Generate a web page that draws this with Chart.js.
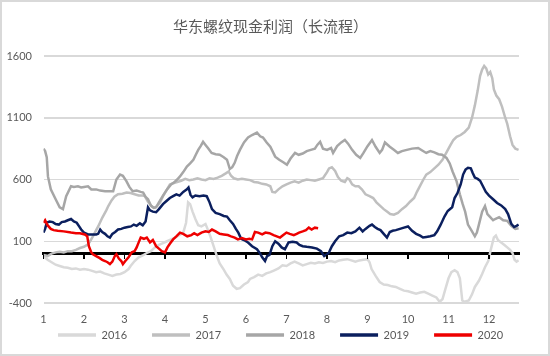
<!DOCTYPE html>
<html>
<head>
<meta charset="utf-8">
<script src="https://cdn.jsdelivr.net/npm/chart.js@4.4.1/dist/chart.umd.min.js"></script>
<style>
html,body{margin:0;padding:0;background:#fff;}
#wrap{width:550px;height:356px;position:relative;background:#fff;overflow:hidden;}
#gridLayer{position:absolute;left:0;top:0;width:550px;height:356px;z-index:0;}
#c{position:absolute;left:0;top:0;display:block;z-index:1;background:transparent;}
#overLayer{position:absolute;left:0;top:0;width:550px;height:356px;z-index:2;pointer-events:none;}
#frame{position:absolute;left:0;top:0;width:550px;height:356px;box-sizing:border-box;border:2px solid #d9d9d9;z-index:3;pointer-events:none;}
.gl{position:absolute;background:#d9d9d9;}
.tk{position:absolute;background:#000;}
</style>
</head>
<body>
<div id="wrap">
  <div id="gridLayer"></div>
  <canvas id="c" width="550" height="356"></canvas>
  <div id="overLayer"></div>
  <div id="frame"></div>
</div>
<script>
// ---------- data ----------
const chartTitle = '华东螺纹现金利润（长流程）';
const monthTicks = [1,2,3,4,5,6,7,8,9,10,11,12];
const yTicks = [-400,100,600,1100,1600];
const seriesNames = ['2016','2017','2018','2019','2020'];

const x2016 = [1.0,1.1,1.2,1.3,1.4,1.5,1.6,1.7,1.8,1.9,2.0,2.1,2.2,2.3,2.4,2.5,2.6,2.7,2.8,2.9,3.0,3.1,3.15,3.25,3.35,3.45,3.55,3.65,3.75,3.85,3.95,4.05,4.15,4.25,4.35,4.45,4.52,4.57,4.62,4.68,4.75,4.82,4.9,5.0,5.05,5.12,5.2,5.28,5.35,5.45,5.52,5.6,5.68,5.77,5.85,5.95,6.05,6.1,6.2,6.3,6.4,6.5,6.6,6.7,6.8,6.9,7.0,7.1,7.2,7.3,7.4,7.5,7.6,7.7,7.8,7.9,8.0,8.1,8.2,8.3,8.4,8.5,8.6,8.7,8.8,8.9,9.0,9.05,9.1,9.2,9.3,9.4,9.5,9.6,9.7,9.8,9.9,10.0,10.1,10.2,10.3,10.4,10.5,10.6,10.7,10.78,10.85,10.92,11.0,11.07,11.15,11.22,11.28,11.34,11.4,11.5,11.58,11.65,11.75,11.83,11.9,11.98,12.05,12.12,12.17,12.22,12.3,12.38,12.45,12.52,12.58,12.63,12.68,12.73];
const v2016 = [-20,-50,-70,-90,-100,-110,-115,-125,-120,-130,-125,-130,-140,-150,-145,-160,-170,-180,-170,-165,-150,-125,-100,-60,-30,-15,5,20,50,70,85,100,115,130,150,170,250,415,400,340,280,230,220,240,200,140,60,-20,-80,-130,-170,-205,-260,-285,-280,-250,-230,-205,-190,-170,-180,-160,-150,-135,-120,-95,-100,-80,-65,-80,-95,-85,-75,-80,-70,-75,-65,-60,-70,-55,-50,-45,-55,-65,-55,-50,-45,-70,-125,-180,-230,-250,-255,-265,-270,-285,-300,-305,-315,-325,-315,-310,-325,-340,-355,-390,-370,-290,-200,-150,-135,-150,-200,-380,-390,-380,-330,-270,-220,-165,-110,-60,40,130,145,110,90,70,50,30,5,-50,-65,-55];

const x2017 = [1.0,1.1,1.2,1.3,1.4,1.5,1.6,1.7,1.8,1.9,2.0,2.1,2.15,2.22,2.3,2.35,2.45,2.55,2.6,2.68,2.75,2.84,2.95,3.05,3.15,3.25,3.35,3.45,3.5,3.58,3.68,3.75,3.82,3.88,3.96,4.05,4.12,4.2,4.3,4.4,4.5,4.6,4.7,4.8,4.9,5.0,5.1,5.2,5.3,5.4,5.5,5.57,5.63,5.7,5.8,5.9,6.0,6.1,6.2,6.3,6.4,6.5,6.6,6.65,6.72,6.8,6.9,7.0,7.1,7.2,7.3,7.4,7.5,7.6,7.7,7.8,7.9,8.0,8.05,8.12,8.2,8.27,8.35,8.44,8.5,8.55,8.62,8.7,8.78,8.86,8.95,9.05,9.14,9.22,9.3,9.4,9.48,9.56,9.65,9.75,9.85,9.95,10.05,10.15,10.22,10.3,10.38,10.45,10.55,10.65,10.75,10.85,10.95,11.05,11.12,11.2,11.3,11.4,11.5,11.58,11.65,11.72,11.78,11.83,11.88,11.93,11.98,12.03,12.08,12.12,12.18,12.25,12.32,12.4,12.45,12.52,12.58,12.65,12.73];
const v2017 = [-10,-20,0,10,15,10,20,20,30,45,55,75,100,140,190,220,290,350,385,430,460,480,485,495,490,480,470,470,465,420,380,370,390,415,470,520,560,570,580,590,605,595,600,610,600,595,610,605,615,630,650,665,630,610,600,605,600,595,580,575,565,560,545,500,495,520,545,560,575,585,575,590,600,595,590,600,610,660,690,700,670,620,590,580,610,600,560,545,545,520,480,465,450,415,390,360,340,320,315,330,360,385,420,450,500,550,600,640,660,690,720,760,820,880,920,945,960,985,1020,1100,1200,1320,1440,1490,1520,1500,1450,1470,1420,1330,1280,1250,1190,1100,1050,950,880,850,840];

const x2018 = [1.0,1.04,1.08,1.11,1.18,1.3,1.4,1.48,1.56,1.68,1.75,1.85,1.93,2.0,2.1,2.18,2.3,2.4,2.52,2.62,2.72,2.8,2.89,2.96,3.05,3.12,3.2,3.3,3.4,3.46,3.52,3.58,3.65,3.72,3.78,3.85,3.95,4.05,4.15,4.22,4.3,4.37,4.45,4.54,4.62,4.7,4.76,4.82,4.88,4.94,5.0,5.06,5.15,5.25,5.35,5.45,5.53,5.6,5.66,5.72,5.78,5.85,5.95,6.05,6.15,6.27,6.35,6.42,6.51,6.6,6.72,6.82,6.92,7.01,7.1,7.21,7.3,7.4,7.5,7.6,7.7,7.76,7.83,7.9,8.0,8.1,8.15,8.25,8.35,8.44,8.52,8.62,8.72,8.82,8.9,9.0,9.11,9.2,9.3,9.36,9.43,9.55,9.65,9.75,9.85,9.97,10.1,10.25,10.35,10.45,10.55,10.65,10.75,10.84,10.95,11.03,11.1,11.2,11.28,11.35,11.41,11.48,11.58,11.65,11.7,11.75,11.83,11.9,11.96,12.03,12.1,12.15,12.25,12.35,12.45,12.55,12.65,12.73];
const v2018 = [850,830,780,625,520,440,375,360,465,545,540,545,535,540,545,520,520,510,505,505,505,600,640,630,585,540,505,510,500,495,460,440,390,370,375,415,470,520,560,575,600,625,660,705,730,760,800,840,870,905,880,855,815,805,800,780,760,685,700,735,790,840,900,940,960,980,950,940,900,865,785,760,740,720,770,815,800,810,830,840,850,880,905,850,840,855,815,870,900,920,890,840,800,775,815,870,920,865,815,840,900,865,840,815,830,840,850,855,835,815,830,820,805,800,775,730,665,585,480,400,340,235,180,140,170,235,340,385,320,295,270,280,295,270,265,225,200,205];

const x2019 = [1.0,1.04,1.08,1.15,1.23,1.3,1.38,1.45,1.53,1.6,1.68,1.75,1.82,1.88,1.93,2.0,2.1,2.2,2.3,2.35,2.4,2.45,2.52,2.58,2.64,2.7,2.77,2.84,2.92,3.0,3.08,3.16,3.23,3.3,3.38,3.45,3.52,3.58,3.63,3.7,3.78,3.85,3.95,4.05,4.12,4.2,4.28,4.36,4.45,4.54,4.58,4.63,4.68,4.75,4.85,4.95,5.03,5.1,5.16,5.25,5.35,5.45,5.53,5.6,5.68,5.75,5.81,5.88,5.95,6.05,6.15,6.27,6.35,6.4,6.47,6.52,6.58,6.65,6.72,6.8,6.88,6.96,7.05,7.15,7.25,7.32,7.4,7.5,7.63,7.75,7.85,7.93,8.0,8.05,8.12,8.2,8.3,8.4,8.5,8.6,8.7,8.8,8.88,8.95,9.05,9.11,9.18,9.25,9.32,9.4,9.48,9.55,9.62,9.7,9.8,9.9,10.0,10.1,10.2,10.3,10.37,10.45,10.55,10.65,10.72,10.8,10.9,10.98,11.09,11.15,11.22,11.3,11.36,11.42,11.48,11.55,11.6,11.65,11.72,11.78,11.85,11.92,12.0,12.1,12.2,12.3,12.4,12.47,12.55,12.62,12.68,12.73];
const v2019 = [170,200,250,260,255,240,235,255,260,270,280,260,250,220,195,170,155,155,155,160,195,175,160,140,130,160,175,195,200,210,215,220,235,225,245,230,260,375,350,340,335,360,400,430,450,465,480,470,500,520,535,475,455,470,465,470,465,415,360,330,320,305,300,270,240,200,170,120,110,90,60,35,0,-30,-60,-20,-10,60,100,80,50,35,90,95,90,70,60,55,50,40,20,-20,-5,10,60,100,140,150,170,165,180,210,180,200,225,235,215,200,190,160,130,175,185,190,200,210,220,185,160,145,130,135,140,150,180,230,300,345,375,450,490,560,640,680,695,690,650,615,605,590,545,500,470,440,410,390,360,320,240,215,225,235];

const x2020 = [1.0,1.04,1.1,1.18,1.25,1.35,1.5,1.68,1.8,1.9,2.02,2.08,2.12,2.18,2.22,2.3,2.38,2.45,2.52,2.58,2.64,2.7,2.76,2.8,2.86,2.92,2.96,3.02,3.1,3.18,3.25,3.3,3.33,3.4,3.48,3.55,3.63,3.7,3.78,3.85,3.92,4.0,4.06,4.12,4.2,4.28,4.37,4.45,4.55,4.65,4.72,4.8,4.9,5.0,5.08,5.16,5.25,5.35,5.45,5.55,5.63,5.72,5.8,5.9,6.0,6.08,6.15,6.22,6.3,6.4,6.48,6.58,6.68,6.76,6.84,6.92,7.0,7.08,7.18,7.25,7.31,7.4,7.48,7.55,7.62,7.7,7.78];
const v2020 = [250,270,230,200,190,185,180,170,165,165,155,140,60,10,-5,-20,-35,-50,-60,-70,-85,-65,-20,-5,-40,-60,-85,-60,-30,10,20,50,75,130,120,130,90,110,60,40,20,10,50,80,115,140,170,160,140,150,165,150,170,180,175,195,180,160,155,150,140,130,115,125,115,120,115,175,170,155,170,165,150,140,130,150,170,160,150,160,170,180,190,210,195,210,205];

// ---------- styles ----------
const seriesColors = ['#d9d9d9','#bfbfbf','#a6a6a6','#0b1f5e','#ee0000'];
const textColor = '#595959';
const xMin = 1, xMax = 12.74;

function pts(xs, ys) { return xs.map((x, i) => ({ x: x, y: ys[i] })); }
const xArrays = [x2016, x2017, x2018, x2019, x2020];
const vArrays = [v2016, v2017, v2018, v2019, v2020];

const datasets = seriesNames.map((name, i) => ({
  label: name,
  data: pts(xArrays[i], vArrays[i]),
  borderColor: seriesColors[i],
  backgroundColor: seriesColors[i],
  borderWidth: 2.5,
  pointRadius: 0,
  tension: 0,
  fill: false,
  order: seriesNames.length - i,
  xAxisID: 'x',
  yAxisID: 'y'
}));

// widen the label boxes after layout so tick labels are not clipped,
// and centre the title like the reference
const boxTweak = {
  id: 'boxTweak',
  afterLayout(chart) {
    const y = chart.scales.y, x = chart.scales.x;
    if (y) { y.left = 0; }
    if (x) { x.bottom = x.top + 30; }
    if (chart.titleBlock) { chart.titleBlock.left = 0; chart.titleBlock.right = 541; }
  }
};

const chart = new Chart(document.getElementById('c'), {
  type: 'line',
  data: { datasets: datasets },
  options: {
    responsive: false,
    animation: false,
    devicePixelRatio: 1,
    layout: { padding: { left: 33, right: 0, top: 0, bottom: 5.5 } },
    plugins: {
      tooltip: { enabled: false },
      title: {
        display: true,
        text: chartTitle,
        color: textColor,
        font: { family: "'Noto Sans CJK SC', sans-serif", size: 15, weight: 'normal' },
        padding: { top: 17, bottom: 21 }
      },
      legend: {
        position: 'bottom',
        align: 'start',
        labels: {
          color: textColor,
          font: { family: 'Lato, sans-serif', size: 11 },
          boxWidth: 38,
          boxHeight: 3.5,
          padding: 25,
          generateLabels: (ch) => ch.data.datasets.map((ds, i) => ({
            text: ds.label,
            fillStyle: ds.borderColor,
            strokeStyle: ds.borderColor,
            lineWidth: 0,
            hidden: false,
            datasetIndex: i,
            fontColor: textColor
          }))
        }
      }
    },
    scales: {
      x: {
        type: 'linear',
        position: 'bottom',
        min: xMin,
        max: xMax,
        afterBuildTicks: (s) => { s.ticks = monthTicks.map(v => ({ value: v })); },
        afterFit: (s) => { s.height = 1.5; },
        grid: { display: false, drawTicks: false },
        border: { display: false },
        ticks: {
          color: textColor,
          font: { family: 'Lato, sans-serif', size: 11 },
          padding: 10,
          maxRotation: 0,
          autoSkip: false,
          callback: (v) => String(v)
        }
      },
      x0: {
        type: 'linear',
        axis: 'x',
        position: { y: 0 },
        min: xMin,
        max: xMax,
        afterBuildTicks: (s) => { s.ticks = monthTicks.map(v => ({ value: v })); },
        grid: { display: false, drawOnChartArea: false, drawTicks: false },
        border: { display: true, color: '#000000', width: 3 },
        ticks: { display: false }
      },
      y: {
        type: 'linear',
        position: 'left',
        min: -400,
        max: 1600,
        afterBuildTicks: (s) => { s.ticks = yTicks.map(v => ({ value: v })); },
        afterFit: (s) => { s.width = 10.5; },
        grid: { display: false, drawTicks: false },
        border: { display: false },
        ticks: {
          color: textColor,
          font: { family: 'Lato, sans-serif', size: 11 },
          padding: 11.5,
          callback: (v) => String(v)
        }
      },
      yr: {
        type: 'linear',
        axis: 'y',
        position: 'right',
        min: -400,
        max: 1600,
        afterFit: (s) => { s.width = 31; },
        grid: { display: false, drawTicks: false },
        border: { display: false },
        ticks: { display: false }
      }
    }
  },
  plugins: [boxTweak]
});

// grid lines (behind the transparent canvas) and zero-axis tick marks (above it),
// placed with the chart's own scales
function placeGuides() {
  const area = chart.chartArea;
  const yScale = chart.scales.y, xScale = chart.scales.x;
  const gridLayer = document.getElementById('gridLayer');
  const overLayer = document.getElementById('overLayer');
  gridLayer.innerHTML = '';
  overLayer.innerHTML = '';
  yTicks.forEach(v => {
    const py = yScale.getPixelForValue(v);
    const d = document.createElement('div');
    d.className = 'gl';
    d.style.left = area.left + 'px';
    d.style.width = (area.right - area.left) + 'px';
    d.style.top = (py - 0.75) + 'px';
    d.style.height = '1.5px';
    gridLayer.appendChild(d);
  });
  const y0 = yScale.getPixelForValue(0);
  monthTicks.forEach(m => {
    const px = xScale.getPixelForValue(m);
    const t = document.createElement('div');
    t.className = 'tk';
    t.style.left = (px - 0.75) + 'px';
    t.style.width = '1.5px';
    t.style.top = (y0 + 1) + 'px';
    t.style.height = '4px';
    overLayer.appendChild(t);
  });
}
placeGuides();
</script>
</body>
</html>
